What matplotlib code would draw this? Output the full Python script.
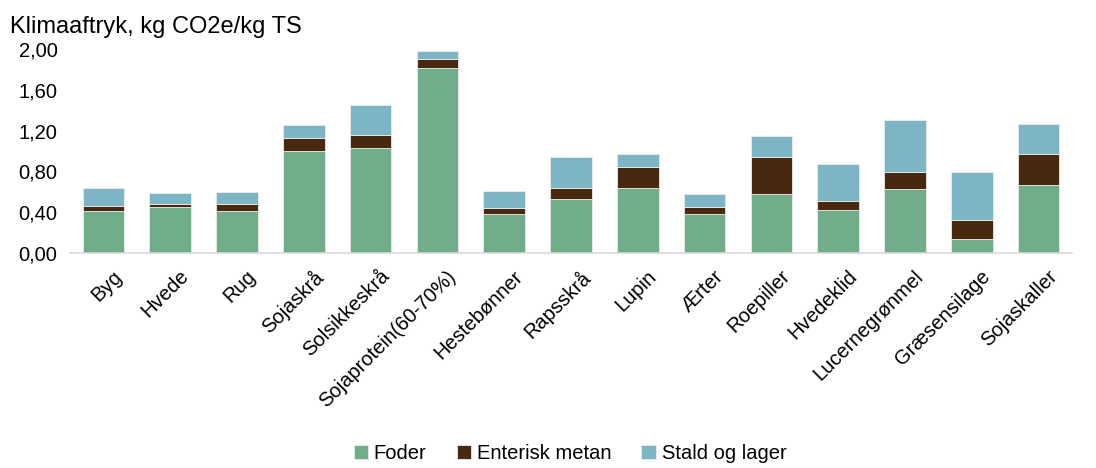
import matplotlib.pyplot as plt
import matplotlib.transforms as mtransforms
import numpy as np

plt.rcParams['font.family'] = ['Liberation Sans', 'DejaVu Sans']

categories = ["Byg", "Hvede", "Rug", "Sojaskrå", "Solsikkeskrå", "Sojaprotein(60-70%)",
              "Hestebønner", "Rapsskrå", "Lupin", "Ærter", "Roepiller", "Hvedeklid",
              "Lucernegrønmel", "Græsensilage", "Sojaskaller"]
foder = [0.41, 0.45, 0.41, 1.00, 1.03, 1.82, 0.38, 0.53, 0.64, 0.38, 0.58, 0.42, 0.63, 0.13, 0.67]
enterisk = [0.05, 0.03, 0.07, 0.13, 0.13, 0.08, 0.06, 0.11, 0.20, 0.07, 0.36, 0.09, 0.16, 0.19, 0.30]
stald = [0.18, 0.11, 0.12, 0.13, 0.29, 0.08, 0.17, 0.30, 0.13, 0.13, 0.21, 0.36, 0.51, 0.47, 0.30]

colors = ["#71AD89", "#48280E", "#7DB5C6"]
names = ["Foder", "Enterisk metan", "Stald og lager"]

fig = plt.figure(figsize=(10.96, 4.68), dpi=100)
ax = fig.add_axes([70 / 1096, 1 - 252.7 / 468, 1002 / 1096, 203.4 / 468])

x = np.arange(len(categories))
bottom = np.zeros(len(categories))
for vals, c, n in zip([foder, enterisk, stald], colors, names):
    ax.bar(x, vals, width=0.62, bottom=bottom, color=c, label=n,
           edgecolor="#E8EEE9", linewidth=0.6)
    bottom += np.array(vals)

ax.set_xlim(-0.5, len(categories) - 0.5)
ax.set_ylim(0, 2.0)
yt = np.arange(0, 2.01, 0.4)
ax.set_yticks(yt)
ax.set_yticklabels([f"{v:.2f}".replace(".", ",") for v in yt], fontsize=14.5)
ax.set_xticks(x)
ax.set_xticklabels(categories, rotation=45, ha="right", rotation_mode="anchor", fontsize=14.5)
ax.tick_params(length=0)
ax.tick_params(axis="y", pad=9)
ax.tick_params(axis="x", pad=10)
offset = mtransforms.ScaledTranslation(0.09, 0, fig.dpi_scale_trans)
for lab in ax.get_xticklabels():
    lab.set_transform(lab.get_transform() + offset)
for s in ["top", "right", "left"]:
    ax.spines[s].set_visible(False)
ax.spines["bottom"].set_color("#D9D9D9")
ax.spines["bottom"].set_linewidth(1.2)

fig.text(10 / 1096, 1 - 32.5 / 468, "Klimaaftryk, kg CO2e/kg TS", fontsize=17, va="baseline", ha="left")

fig.legend(loc="lower center", ncol=3, frameon=False, fontsize=14.5,
           bbox_to_anchor=(0.52, -0.028), handlelength=0.7, handleheight=0.7,
           handletextpad=0.3, columnspacing=1.5)

fig.savefig("out.png", dpi=100)
